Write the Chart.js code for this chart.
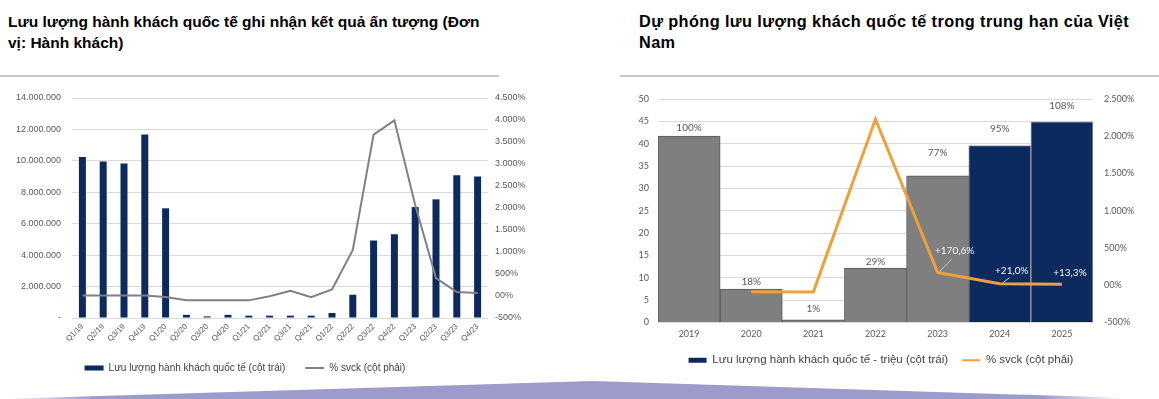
<!DOCTYPE html>
<html>
<head>
<meta charset="utf-8">
<script src="https://cdn.jsdelivr.net/npm/chart.js"></script>
<style>
  html, body { margin: 0; padding: 0; background: #fff; }
  body { width: 1159px; height: 399px; position: relative; overflow: hidden; font-family: "Liberation Sans", Arial, sans-serif; }
  .title { position: absolute; top: 11px; font-weight: bold; line-height: 21px; color: #000; white-space: nowrap; }
  .rule { position: absolute; top: 75px; height: 2px; background: #c6c6cc; }
  .box { position: absolute; }
</style>
</head>
<body>
<div class="title" style="left:8px;font-size:15.5px">Lưu lượng hành khách quốc tế ghi nhận kết quả ấn tượng (Đơn<br>vị: Hành khách)</div>
<div class="title" style="left:639px;font-size:16.3px;letter-spacing:0.4px">Dự phóng lưu lượng khách quốc tế trong trung hạn của Việt<br>Nam</div>
<div class="rule" style="left:0;width:499px"></div>
<div class="rule" style="left:620px;width:539px"></div>
<div class="box" style="left:0;top:86px;width:545px;height:297px"><canvas id="quarterChart"></canvas></div>
<div class="box" style="left:620px;top:88px;width:539px;height:288px"><canvas id="yearChart"></canvas></div>
<svg style="position:absolute;left:0;top:376px" width="1159" height="23">
  <defs>
    <linearGradient id="fade" x1="0" x2="1" y1="0" y2="0">
      <stop offset="0" stop-color="#9c9bcc" stop-opacity="0"/>
      <stop offset="0.08" stop-color="#9c9bcc" stop-opacity="1"/>
      <stop offset="0.9" stop-color="#9c9bcc" stop-opacity="1"/>
      <stop offset="0.97" stop-color="#9c9bcc" stop-opacity="0"/>
    </linearGradient>
  </defs>
  <polygon points="0,23 593,5 1159,23" fill="url(#fade)"/>
</svg>
<script>
// quarterly data (left chart)
const quarters = ['Q1/19', 'Q2/19', 'Q3/19', 'Q4/19', 'Q1/20', 'Q2/20', 'Q3/20', 'Q4/20', 'Q1/21', 'Q2/21',
    'Q3/21', 'Q4/21', 'Q1/22', 'Q2/22', 'Q3/22', 'Q4/22', 'Q1/23', 'Q2/23', 'Q3/23', 'Q4/23'];
const passengers = [10250000, 9960000, 9830000, 11670000, 6980000, 200000, 100000, 200000, 150000, 150000,
    150000, 150000, 320000, 1480000, 4930000, 5330000, 7060000, 7550000, 9090000, 9000000];
const yoyQuarter = [12, 12, 12, 12, -22, -97, -98, -98, -99, -5,
    120, -25, 150, 1048, 3668, 3993, 2068, 407, 89, 66];

// yearly data (right chart)
const years = ['2019', '2020', '2021', '2022', '2023', '2024', '2025'];
const passengersMn = [41.7, 7.5, 0.6, 12.2, 32.8, 39.6, 44.9];
const shareOf2019 = ['100%', '18%', '1%', '29%', '77%', '95%', '108%'];
const yoyYear = [null, -88, -89, 2230, 170.6, 21.0, 13.3];

const navy = '#0d2a5e';
const grey = '#7f7f80';

function dots(n) {
    let s = String(Math.abs(n)).replace(/\B(?=(\d{3})+(?!\d))/g, '.');
    return (n < 0 ? '-' : '') + s;
}
function pct(v) {
    return v === 0 ? '00%' : dots(v) + '%';
}

// fixed axis width; don't let tick padding push the plot down
function fixWidth(w) {
    return function (s) {
        s.width = w;
        s.paddingTop = 4;
        s.paddingBottom = 4;
    };
}

// legend: flat box for bars, line for the % series, kept in dataset order
function legendItems(lineWidth) {
    return function (chart) {
        let items = Chart.defaults.plugins.legend.labels.generateLabels(chart);
        items.forEach(it => {
            if (it.datasetIndex === 0) {
                it.pointStyle = 'rect';
                it.fillStyle = navy;
                it.strokeStyle = navy;
                it.lineWidth = 0;
            } else {
                it.pointStyle = 'line';
                it.lineWidth = lineWidth;
            }
        });
        return items.sort((a, b) => a.datasetIndex - b.datasetIndex);
    };
}

// move the legend's centre without touching the plot area
const legendShift = {
    id: 'legendShift',
    afterLayout(chart, args, opts) {
        if (chart.legend && opts.right) {
            chart.legend.left = 0;
            chart.legend.right = opts.right;
        }
    }
};

new Chart(document.getElementById('quarterChart'), {
    data: {
        labels: quarters,
        datasets: [
            {
                type: 'bar',
                label: 'Lưu lượng hành khách quốc tế (cột trái)',
                data: passengers,
                backgroundColor: navy,
                categoryPercentage: 0.8,
                barPercentage: 0.42,
                yAxisID: 'y',
                order: 2
            },
            {
                type: 'line',
                label: '% svck (cột phải)',
                data: yoyQuarter,
                borderColor: '#808080',
                backgroundColor: '#808080',
                borderWidth: 2,
                pointRadius: 0,
                yAxisID: 'y1',
                order: 1
            }
        ]
    },
    options: {
        responsive: true,
        maintainAspectRatio: false,
        animation: false,
        layout: { padding: { top: 12, right: 0, left: 0, bottom: 0 } },
        plugins: {
            tooltip: { enabled: false },
            legendShift: { right: 490 },
            legend: {
                position: 'bottom',
                labels: {
                    usePointStyle: true,
                    pointStyleWidth: 19,
                    boxHeight: 5,
                    padding: 20,
                    color: '#404040',
                    font: { size: 10, family: 'Liberation Sans' },
                    generateLabels: legendItems(2)
                }
            }
        },
        scales: {
            x: {
                grid: { display: false, drawTicks: false },
                border: { display: false },
                ticks: { minRotation: 45, maxRotation: 45, autoSkip: false, padding: 4, color: '#595959', font: { size: 7.8, family: 'Liberation Sans' } },
                afterFit(s) { s.height = 25; }
            },
            y: {
                position: 'left',
                min: 0,
                max: 14000000,
                ticks: { stepSize: 2000000, padding: 11, color: '#595959', font: { size: 9, family: 'Liberation Sans' },
                    callback: v => v === 0 ? '-' : dots(v) },
                grid: { color: '#d9d9d9', drawTicks: false },
                border: { display: false },
                afterFit: fixWidth(72)
            },
            y1: {
                position: 'right',
                min: -500,
                max: 4500,
                ticks: { stepSize: 500, padding: 7, color: '#595959', font: { size: 9, family: 'Liberation Sans' }, callback: pct },
                grid: { drawOnChartArea: false, drawTicks: false },
                border: { display: false },
                afterFit: fixWidth(57)
            }
        }
    },
    plugins: [legendShift]
});

// text over the yearly chart: share of 2019 above bars, y/y growth near the line
const yearLabels = {
    id: 'yearLabels',
    afterDatasetsDraw(chart) {
        const ctx = chart.ctx;
        const bars = chart.getDatasetMeta(0).data;
        const pts = chart.getDatasetMeta(1).data;
        const gaps = [8, 7, 11, 6, 23, 17, 16];
        const shift = { 4: [17, -22], 5: [12, -13], 6: [8, -11] };
        const leaders = { 4: [[2, -1], [14, -13]], 5: [[3, -1], [10, -6]] };
        ctx.save();
        ctx.font = '10px Lato';
        ctx.textAlign = 'center';
        ctx.textBaseline = 'middle';
        ctx.fillStyle = '#595959';
        bars.forEach((b, i) => ctx.fillText(shareOf2019[i], b.x, b.y - gaps[i]));

        ctx.strokeStyle = '#c8c8c8';
        ctx.lineWidth = 1;
        Object.keys(leaders).forEach(k => {
            const p = pts[k];
            const [a, b] = leaders[k];
            ctx.beginPath();
            ctx.moveTo(p.x + a[0], p.y + a[1]);
            ctx.lineTo(p.x + b[0], p.y + b[1]);
            ctx.stroke();
        });
        ctx.fillStyle = '#f2f2f2';
        Object.keys(shift).forEach(k => {
            const p = pts[k];
            const txt = '+' + yoyYear[k].toFixed(1).replace('.', ',') + '%';
            ctx.fillText(txt, p.x + shift[k][0], p.y + shift[k][1]);
        });
        ctx.restore();
    }
};

new Chart(document.getElementById('yearChart'), {
    data: {
        labels: years,
        datasets: [
            {
                type: 'bar',
                label: 'Lưu lượng hành khách quốc tế - triệu (cột trái)',
                data: passengersMn,
                backgroundColor: years.map((y, i) => i >= 5 ? navy : grey),
                borderColor: years.map((y, i) => i >= 5 ? '#9a9fb0' : '#5a5a5a'),
                borderWidth: 1,
                categoryPercentage: 1,
                barPercentage: 1,
                yAxisID: 'y',
                order: 2
            },
            {
                type: 'line',
                label: '% svck (cột phải)',
                data: yoyYear,
                borderColor: '#f0a03a',
                backgroundColor: '#f0a03a',
                borderWidth: 3,
                pointRadius: 0,
                yAxisID: 'y1',
                order: 1
            }
        ]
    },
    options: {
        responsive: true,
        maintainAspectRatio: false,
        animation: false,
        layout: { padding: { top: 11, right: 0, left: 0, bottom: 0 } },
        plugins: {
            tooltip: { enabled: false },
            legendShift: { right: 522 },
            legend: {
                position: 'bottom',
                labels: {
                    usePointStyle: true,
                    pointStyleWidth: 18,
                    boxHeight: 5,
                    padding: 14,
                    color: '#404040',
                    font: { size: 11.5, family: 'Liberation Sans' },
                    generateLabels: legendItems(2)
                }
            }
        },
        scales: {
            x: {
                grid: { display: false, drawTicks: false },
                border: { display: false },
                ticks: { padding: 6, color: '#595959', font: { size: 9, family: 'Lato' } },
                afterFit(s) { s.height = 18; }
            },
            y: {
                position: 'left',
                min: 0,
                max: 50,
                ticks: { stepSize: 5, padding: 9, color: '#595959', font: { size: 9, family: 'Lato' } },
                grid: { color: '#d9d9d9', drawTicks: false },
                border: { display: false },
                afterFit: fixWidth(38)
            },
            y1: {
                position: 'right',
                min: -500,
                max: 2500,
                ticks: { stepSize: 500, padding: 11, color: '#595959', font: { size: 9, family: 'Lato' }, callback: pct },
                grid: { drawOnChartArea: false, drawTicks: false },
                border: { display: false },
                afterFit: fixWidth(66)
            }
        }
    },
    plugins: [yearLabels, legendShift]
});
</script>
</body>
</html>
